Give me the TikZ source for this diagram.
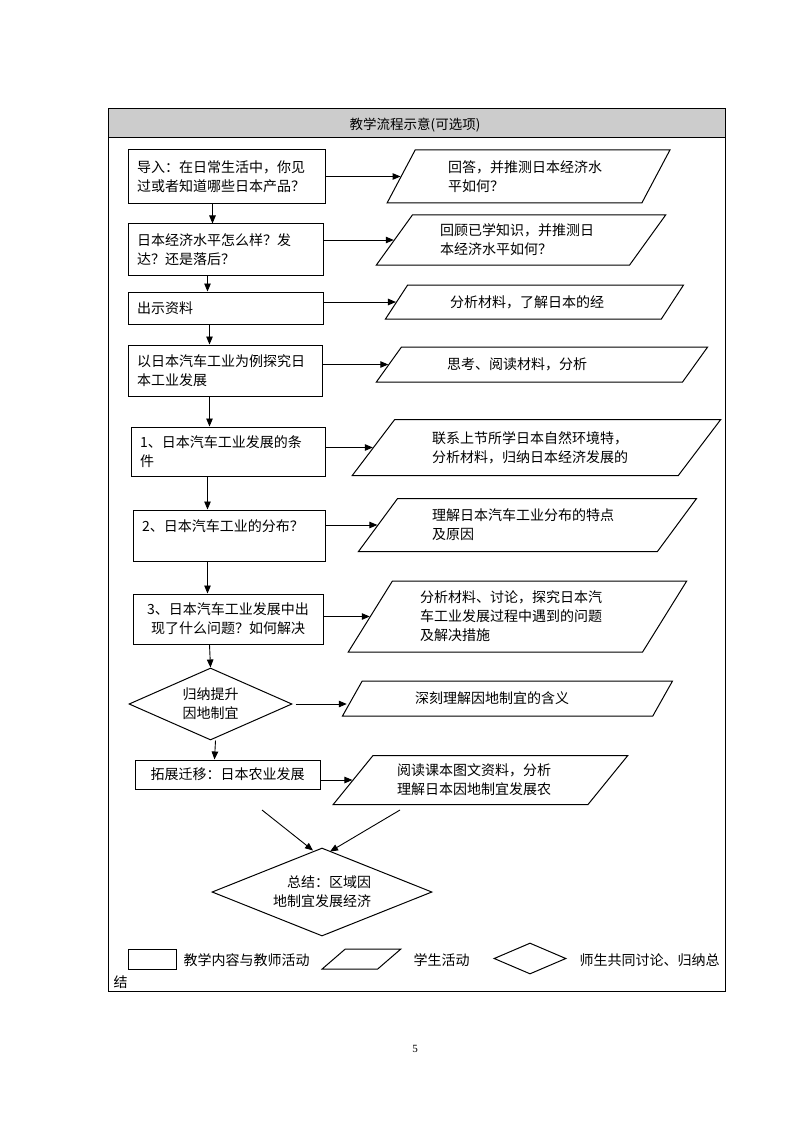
\documentclass[tikz,border=0pt]{standalone}
\usepackage{fontspec}
\setmainfont{Liberation Serif}
\newfontfamily\cjk{Noto Sans CJK SC}
\usetikzlibrary{shapes.geometric}
\usetikzlibrary{arrows.meta}

\newcommand\zh{\cjk\fontsize{14}{19}\selectfont}
\tikzset{
  teach/.style={rectangle,draw=black,line width=1pt,inner xsep=9pt,inner ysep=0pt,align=left,font=\zh},
  stud/.style={trapezium,trapezium stretches=true,trapezium left angle=#1,trapezium right angle={180-#1},
    draw=black,line width=1pt,inner sep=0pt,align=left,font=\zh},
  talk/.style={diamond,draw=black,line width=1pt,inner sep=0pt,font=\zh},
  arr/.style={-{Triangle[length=8pt,width=6.5pt]},line width=0.9pt},
}

\begin{document}
\begin{tikzpicture}[x=1pt,y=-1pt]
\useasboundingbox (0,0) rectangle (794,1123);
\fill[gray!40] (108,108) rectangle (725,137);
\draw[line width=0.8pt] (108,108) rectangle (725,991);
\draw[line width=0.8pt] (108,137) -- (725,137);
\node[font=\cjk\fontsize{13.5}{16}\selectfont] (head) at (415,125) {教学流程示意(可选项)};

% teacher column
\node[teach,minimum width=197,text width=179,minimum height=54] (b1) at (226.5,177) {导入：在日常生活中，你见\\过或者知道哪些日本产品？};
\node[teach,minimum width=195,text width=177,minimum height=51] (b2) at (225.5,249.5) {日本经济水平怎么样？发\\达？还是落后？};
\node[teach,minimum width=195,text width=177,minimum height=32] (b3) at (225.5,308) {出示资料};
\node[teach,minimum width=194,text width=176,minimum height=51] (b4) at (225,370.5) {以日本汽车工业为例探究日\\本工业发展};
\node[teach,minimum width=194,text width=176,minimum height=49] (b5) at (228,451.5) {1、日本汽车工业发展的条\\件};
\node[teach,minimum width=192,text width=174,minimum height=51] (b6) at (229,535.5) {2、日本汽车工业的分布？\\\mbox{}};
\node[teach,minimum width=190,text width=172,minimum height=50,align=center] (b7) at (228,619) {3、日本汽车工业发展中出\\现了什么问题？如何解决};
\node[talk,minimum width=163,minimum height=72,shape aspect=2.26,align=center] (d1) at (210.5,704) {归纳提升\\因地制宜};
\node[teach,minimum width=185,text width=167,minimum height=29,align=center] (b8) at (227.5,774.5) {拓展迁移：日本农业发展};
\node[talk,minimum width=220,minimum height=88,shape aspect=2.5,align=right] (d2) at (322,892) {总结：区域因\\地制宜发展经济};

% student column
\node[stud=58,minimum width=283,minimum height=53,text width=161] (p1) at (528.5,176.5) {回答，并推测日本经济水\\平如何？};
\node[stud=50,minimum width=290,minimum height=50,text width=162] (p2) at (521,240) {回顾已学知识，并推测日\\本经济水平如何？};
\node[stud=42,minimum width=299,minimum height=34,text width=169] (p3) at (534.5,302) {分析材料，了解日本的经};
\node[stud=38,minimum width=332,minimum height=35,text width=190] (p4) at (542,364.5) {思考、阅读材料，分析};
\node[stud=46,minimum width=369,minimum height=56,text width=209] (p5) at (536.5,447.5) {联系上节所学日本自然环境特，\\分析材料，归纳日本经济发展的};
\node[stud=48,minimum width=339,minimum height=53,text width=191] (p6) at (527.5,525) {理解日本汽车工业分布的特点\\及原因};
\node[stud=56,minimum width=339,minimum height=71,text width=195] (p7) at (517.5,616.5) {分析材料、讨论，探究日本汽\\车工业发展过程中遇到的问题\\及解决措施};
\node[stud=46,minimum width=331,minimum height=35,text width=185] (p8) at (507.5,698.5) {深刻理解因地制宜的含义};
\node[stud=46,minimum width=295,minimum height=49,text width=167] (p9) at (480.5,780) {阅读课本图文资料，分析\\理解日本因地制宜发展农};

% arrows
\draw[arr] ([xshift=85pt]b1.south west) -- ([xshift=85pt]b2.north west);
\draw[arr] ([xshift=80pt]b2.south west) -- ([xshift=80pt]b3.north west);
\draw[arr] ([xshift=82pt]b3.south west) -- ([xshift=82pt]b4.north west);
\draw[arr] ([xshift=82pt]b4.south west) -- ([xshift=79pt]b5.north west);
\draw[arr] ([xshift=77pt]b5.south west) -- ([xshift=75pt]b6.north west);
\draw[arr] ([xshift=75pt]b6.south west) -- ([xshift=75pt]b7.north west);
\draw[arr] ([xshift=77pt]b7.south west) -- (d1.north);
\draw[arr] ([xshift=5pt]d1.south) -- ([xshift=80pt]b8.north west);
\draw[arr] (p1.west -| b1.east) -- (p1.west);
\draw[arr] (p2.west -| b2.east) -- (p2.west);
\draw[arr] (p3.west -| b3.east) -- (p3.west);
\draw[arr] (p4.west -| b4.east) -- (p4.west);
\draw[arr] (p5.west -| b5.east) -- (p5.west);
\draw[arr] (p6.west -| b6.east) -- (p6.west);
\draw[arr] (p7.west -| b7.east) -- (p7.west);
\draw[arr,shorten >=5pt] ([xshift=3pt]d1.east) -- (d1.east -| p8.west);
\draw[arr] (p9.west -| b8.east) -- (p9.west);
\coordinate (agri-l) at (262,810);
\coordinate (agri-r) at (400,810);
\draw[arr] (agri-l) -- ([xshift=-9pt,yshift=-3pt]d2.north);
\draw[arr] (agri-r) -- ([xshift=8pt,yshift=-4pt]d2.north);

% legend
\node[teach,minimum width=48,minimum height=20] (lg-box) at (152,959) {};
\node[font=\zh,anchor=west] (lg-box-t) at (180,960) {教学内容与教师活动};
\node[stud=53,minimum width=79,minimum height=20,text width=20] (lg-stu) at (361.5,959) {\strut};
\node[font=\zh,anchor=west] (lg-stu-t) at (410,960) {学生活动};
\node[talk,minimum width=72,minimum height=31,inner sep=2pt] (lg-talk) at (530,958.5) {};
\node[font=\zh,anchor=west] (lg-talk-t) at (576,960) {师生共同讨论、归纳总};
\node[font=\zh,anchor=west] (lg-talk-t2) at (110,982) {结};

\node[font=\fontsize{11}{13}\selectfont] (pgno) at (415,1049) {5};
\end{tikzpicture}
\end{document}
